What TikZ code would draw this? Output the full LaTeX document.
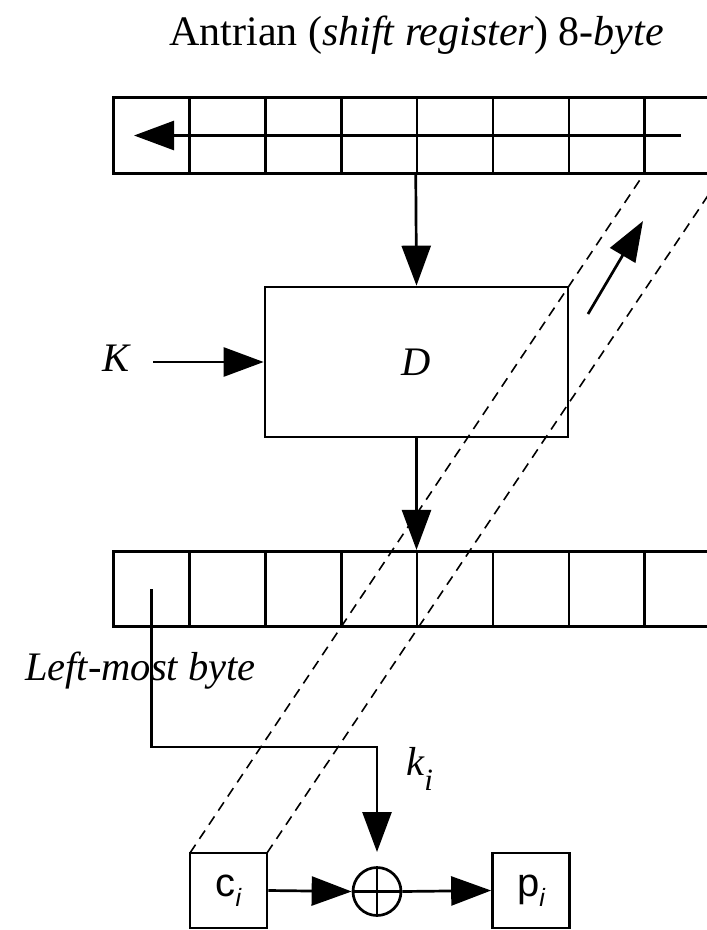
\documentclass[tikz,border=0pt]{standalone}
\usepackage{fontspec}
\setmainfont{Liberation Serif}
\newfontfamily\sansf{Liberation Sans}
\usetikzlibrary{arrows.meta}
\begin{document}
\begin{tikzpicture}[x=1pt,y=-1pt,
  line width=2.7pt,
  tip/.style={-{Triangle[length=40pt,width=29pt]}},
  cell/.style={draw,line width=2.7pt,inner sep=0pt,minimum width=75.9pt,minimum height=75.5pt},
  dashline/.style={line width=1.6pt,dash pattern=on 10pt off 7pt},
  lbl/.style={font=\fontsize{40.5}{44}\selectfont\itshape,inner sep=0pt},
  sbox/.style={draw,line width=2.7pt,inner sep=0pt,minimum width=77pt,minimum height=75pt,font=\sansf\fontsize{40}{44}\selectfont}
]
\useasboundingbox (0,0) rectangle (707,930);
\clip (0,0) rectangle (707,930);

% title
\node[inner sep=0pt,anchor=base,font=\fontsize{42}{46}\selectfont] (title) at (416.5,45)
  {Antrian (\textit{shift register}) 8-\textit{byte}};

% registers
\foreach \i in {0,...,7}{
  \node[cell] (t\i) at (113.5+75.9*\i+37.95,135.5) {};
  \node[cell] (b\i) at (113.5+75.9*\i+37.95,589) {};
}

% dashed path of ciphertext
\draw[dashline] (190,853) -- (t7.south west);
\draw[dashline] (267,853) -- (t7.south east);

% shift arrow
\coordinate (shs) at (681,135.5);
\coordinate (she) at (134,135.5);
\draw[tip] (shs) -- (she);

% D box
\node[draw,line width=2.7pt,minimum width=303pt,minimum height=150pt,inner sep=0pt] (D) at (416.5,362) {};
\node[lbl] (Dl) at (416.5,362) {D};
\draw[tip] (t4.south west) -- (D.north);
\draw[tip] (D.south) -- (D.south |- b4.north);

% K
\node[lbl,anchor=base] (K) at (116,371) {K};
\coordinate (kin) at (153,362);
\draw[tip] (kin) -- (D.west);

% feedback arrow
\coordinate (ua) at (588,314);
\coordinate (ub) at (643,221);
\draw[tip] (ua) -- (ub);

% left-most byte
\node[lbl,anchor=base] (lmb) at (140.5,680) {Left-most byte};

% bottom part
\node[sbox] (ci) at (228.5,890.5) {c\raisebox{-10pt}{\fontsize{25}{27}\selectfont\itshape i}};
\node[sbox] (pi) at (531,890.5) {p\raisebox{-10pt}{\fontsize{25}{27}\selectfont\itshape i}};
\node[draw,circle,line width=2.7pt,minimum size=48pt,inner sep=0pt] (xor) at (377,891.5) {};
\draw (xor.north) -- (xor.south) (xor.west) -- (xor.east);

\coordinate (kcorner) at (377,747);
\coordinate (ktip) at (377,852);
\draw[tip] (b0.center) |- (kcorner) -- (ktip);
\node[lbl,anchor=base west] (ki) at (405,775) {k\raisebox{-15pt}{\fontsize{31}{34}\selectfont i}};

\draw[tip] (ci.east) -- (xor.west);
\draw[tip] (xor.east) -- (pi.west);
\end{tikzpicture}
\end{document}
